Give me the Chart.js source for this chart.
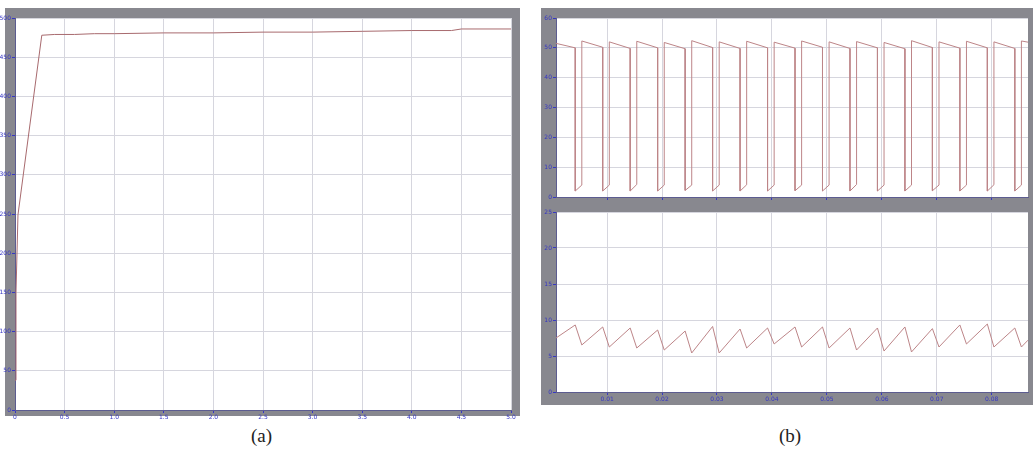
<!DOCTYPE html>
<html>
<head>
<meta charset="utf-8">
<script src="https://cdn.jsdelivr.net/npm/chart.js@4/dist/chart.umd.min.js"></script>
<style>
body { margin: 0; background: #fff; width: 1033px; height: 453px; overflow: hidden; position: relative; }
.frame { position: absolute; background: #88888f; }
canvas { position: absolute; }
.cap { position: absolute; font-family: "Liberation Serif"; font-size: 19px; color: #222; }
</style>
</head>
<body>
<div class="frame" style="left:5px;top:8px;width:515px;height:408px"></div>
<div class="frame" style="left:541px;top:8px;width:492px;height:397px"></div>
<canvas id="chartA" width="520" height="420" style="left:0;top:0"></canvas>
<canvas id="chartB1" width="498" height="205" style="left:535px;top:0"></canvas>
<canvas id="chartB2" width="498" height="215" style="left:535px;top:205px"></canvas>
<div class="cap" style="left:251px;top:425px">(a)</div>
<div class="cap" style="left:779px;top:425px">(b)</div>
<script>
// (a) response curve
const aTime = [0, 0.01, 0.03, 0.27, 0.4, 0.6, 0.8, 1.0, 1.5, 2.0, 2.5, 3.0, 3.5, 4.0, 4.4, 4.5, 5.0];
const aValue = [38, 150, 249, 478, 479, 479, 480, 480, 481, 481, 482, 482, 483, 484, 484, 486, 486];

// (b) top: switching pulses
const bTopTime = [0.0007,
    0.0042, 0.0042, 0.0054, 0.0054, 0.0092, 0.0092, 0.0104, 0.0104,
    0.0142, 0.0142, 0.0154, 0.0154, 0.0192, 0.0192, 0.0204, 0.0204,
    0.0242, 0.0242, 0.0254, 0.0254, 0.0292, 0.0292, 0.0304, 0.0304,
    0.0342, 0.0342, 0.0354, 0.0354, 0.0392, 0.0392, 0.0404, 0.0404,
    0.0442, 0.0442, 0.0454, 0.0454, 0.0492, 0.0492, 0.0504, 0.0504,
    0.0542, 0.0542, 0.0554, 0.0554, 0.0592, 0.0592, 0.0604, 0.0604,
    0.0642, 0.0642, 0.0654, 0.0654, 0.0692, 0.0692, 0.0704, 0.0704,
    0.0742, 0.0742, 0.0754, 0.0754, 0.0792, 0.0792, 0.0804, 0.0804,
    0.0842, 0.0842, 0.0854, 0.0854, 0.0866];
const bTopValue = [51.5,
    50, 2, 4, 52.3, 50.2, 2, 4, 52,
    49.8, 2, 4.2, 52.2, 50, 2, 4, 51.8,
    49.7, 2.2, 4, 52.4, 50.1, 2, 4, 52,
    49.8, 2, 4.1, 52.2, 50, 2, 4, 51.9,
    49.9, 2.1, 4, 52.3, 50.2, 2, 4, 52,
    49.8, 2, 4.2, 52.1, 50, 2, 4, 51.8,
    49.7, 2, 4, 52.4, 50.1, 2.1, 4, 52,
    49.9, 2, 4, 52.2, 50, 2, 4.1, 52,
    49.8, 2, 4, 52.3, 51.9];

// (b) bottom: ripple
const bBotTime = [0.0007, 0.0042, 0.0054, 0.0092, 0.0104, 0.0142, 0.0154, 0.0192, 0.0204,
    0.0242, 0.0254, 0.0292, 0.0304, 0.0342, 0.0354, 0.0392, 0.0404, 0.0442, 0.0454,
    0.0492, 0.0504, 0.0542, 0.0554, 0.0592, 0.0604, 0.0642, 0.0654, 0.0692, 0.0704,
    0.0742, 0.0754, 0.0792, 0.0804, 0.0842, 0.0854, 0.0866];
const bBotValue = [7.5, 9.31, 6.53, 9.03, 6.25, 8.89, 6.11, 8.61, 5.83, 8.47, 5.42, 9.1, 5.42,
    8.75, 6.11, 8.89, 6.67, 9.03, 6.25, 9.03, 6.11, 8.89, 5.83, 8.89, 5.69, 9.03, 5.56,
    8.8, 6.25, 9.31, 6.67, 9.44, 6.25, 8.89, 6.25, 7.2];

// tick values
const aXTicks = [0, 0.5, 1, 1.5, 2, 2.5, 3, 3.5, 4, 4.5, 5];
const aYTicks = [0, 50, 100, 150, 200, 250, 300, 350, 400, 450, 500];
const bXTicks = [0.01, 0.02, 0.03, 0.04, 0.05, 0.06, 0.07, 0.08];
const bTopYTicks = [0, 10, 20, 30, 40, 50, 60];
const bBotYTicks = [0, 5, 10, 15, 20, 25];

const tickBlue = "#3636c4";
const gridGrey = "#d6d6de";

const plotBg = {
    id: "plotBg",
    beforeDraw(chart) {
        const a = chart.chartArea;
        chart.ctx.save();
        chart.ctx.fillStyle = "#ffffff";
        chart.ctx.fillRect(a.left, a.top, a.right - a.left, a.bottom - a.top);
        chart.ctx.restore();
    }
};

function axis(min, max, tickValues, size, showLabels, isY) {
    return {
        type: "linear",
        min: min,
        max: max,
        afterBuildTicks(s) {
            s.ticks = tickValues.map(v => ({ value: v }));
        },
        afterFit(s) {
            if (isY) s.width = size; else s.height = size;
        },
        grid: { color: gridGrey, lineWidth: 1, tickLength: 3, tickColor: tickBlue },
        border: { color: "#5c5c90", width: 1 },
        ticks: {
            display: showLabels,
            color: tickBlue,
            padding: 1,
            autoSkip: false,
            maxRotation: 0,
            font: { family: "DejaVu Sans", size: 6 }
        }
    };
}

function lineChart(id, xs, ys, color, scales, padding) {
    return new Chart(document.getElementById(id), {
        type: "line",
        data: {
            datasets: [{
                data: xs.map((x, i) => ({ x: x, y: ys[i] })),
                borderColor: color,
                borderWidth: 1,
                pointRadius: 0,
                tension: 0
            }]
        },
        options: {
            responsive: false,
            animation: false,
            layout: { padding: padding },
            plugins: { legend: { display: false }, tooltip: { enabled: false } },
            scales: scales
        },
        plugins: [plotBg]
    });
}

lineChart("chartA", aTime, aValue, "#a86a6e", {
    x: axis(0, 5, aXTicks, 10, true, false),
    y: axis(0, 500, aYTicks, 15, true, true)
}, { left: 0, right: 9, top: 18, bottom: 0 });

lineChart("chartB1", bTopTime, bTopValue, "#bd8588", {
    x: axis(0.0007, 0.0866, bXTicks, 8, false, false),
    y: axis(0, 60, bTopYTicks, 21, true, true)
}, { left: 0, right: 5, top: 18, bottom: 0 });

lineChart("chartB2", bBotTime, bBotValue, "#bd8588", {
    x: axis(0.0007, 0.0866, bXTicks, 28, true, false),
    y: axis(0, 25, bBotYTicks, 21, true, true)
}, { left: 0, right: 5, top: 7, bottom: 0 });
</script>
</body>
</html>
